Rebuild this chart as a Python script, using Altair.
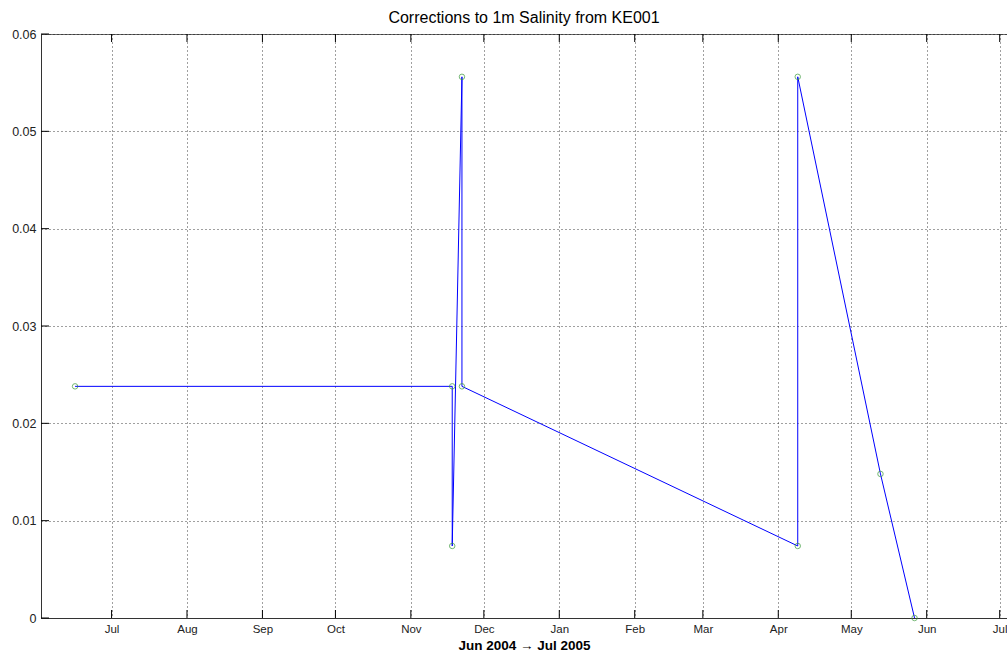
import altair as alt
import pandas as pd

# data
dates = ["2004-06-16", "2004-11-18", "2004-11-18", "2004-11-22", "2004-11-22",
         "2005-04-09", "2005-04-09", "2005-05-13", "2005-05-27"]
values = [0.0238, 0.0238, 0.0074, 0.0556, 0.0238, 0.0074, 0.0556, 0.0148, 0.0]
month_ticks = ["2004-07-01", "2004-08-01", "2004-09-01", "2004-10-01", "2004-11-01",
               "2004-12-01", "2005-01-01", "2005-02-01", "2005-03-01", "2005-04-01",
               "2005-05-01", "2005-06-01", "2005-07-01"]
y_ticks = [0, 0.01, 0.02, 0.03, 0.04, 0.05, 0.06]

df = pd.DataFrame({"date": dates, "value": values, "i": list(range(len(dates)))})
ticks_df = pd.DataFrame({"date": month_ticks})
yt_df = pd.DataFrame({"v": y_ticks})

W, H = 966, 584

def dt(s):
    y, m, d = map(int, s.split("-"))
    return alt.DateTime(year=y, month=m, date=d, utc=True)

xscale = alt.Scale(type="utc", domain=[dt("2004-06-02"), dt("2005-07-04")])
yscale = alt.Scale(domain=[0, 0.06], nice=False, zero=False)

xaxis = alt.Axis(values=[dt(s) for s in month_ticks],
                 labelExpr="utcFormat(datum.value, '%b')",
                 title="Jun 2004 \u2192 Jul 2005", ticks=False, labelPadding=5,
                 titlePadding=4, labelFlush=False, labelFontSize=11.5,
                 titleFontSize=13.5, titleFontWeight="bold",
                 gridDash=[1, 3], gridColor="#000000", gridOpacity=0.75)
yaxis = alt.Axis(values=y_ticks, ticks=False, title=None, labelPadding=5,
                 labelFontSize=12.5,
                 gridDash=[1, 3], gridColor="#000000", gridOpacity=0.75,
                 labelExpr="datum.value == 0 ? '0' : format(datum.value, '.2f')")

base = alt.Chart(df)

line = base.mark_line(color="#0000ff", strokeWidth=1).encode(
    x=alt.X("date:T", scale=xscale, axis=xaxis),
    y=alt.Y("value:Q", scale=yscale, axis=yaxis),
    order=alt.Order("i:Q"),
)

pts = base.mark_point(shape="circle", filled=False, color="#3a9a3a", size=30, strokeWidth=1).encode(
    x=alt.X("date:T", scale=xscale),
    y=alt.Y("value:Q", scale=yscale),
)

xt_bottom = alt.Chart(ticks_df).mark_rule(color="#000000", strokeWidth=1).encode(
    x=alt.X("date:T", scale=xscale),
    y=alt.value(H), y2=alt.value(H - 8),
)
xt_top = alt.Chart(ticks_df).mark_rule(color="#000000", strokeWidth=1).encode(
    x=alt.X("date:T", scale=xscale),
    y=alt.value(0), y2=alt.value(8),
)
yt_left = alt.Chart(yt_df).mark_rule(color="#000000", strokeWidth=1).encode(
    y=alt.Y("v:Q", scale=yscale),
    x=alt.value(0), x2=alt.value(8),
)

chart = alt.layer(line, pts, xt_bottom, xt_top, yt_left).properties(
    width=W, height=H,
    background="#ffffff",
    title=alt.TitleParams("Corrections to 1m Salinity from KE001", fontSize=16,
                          fontWeight="normal", font="Liberation Sans", color="#000000",
                          offset=2),
    autosize=alt.AutoSizeParams(type="none"),
    padding={"left": 41, "top": 34, "right": 0, "bottom": 40},
).configure_view(
    stroke="#666666", strokeWidth=1
).configure_axis(
    labelFont="Liberation Sans", titleFont="Liberation Sans",
    labelColor="#222222", titleColor="#000000",
    domainColor="#333333", domainWidth=1,
)

chart.save("out.html", embed_options={"renderer": "svg", "actions": False})
